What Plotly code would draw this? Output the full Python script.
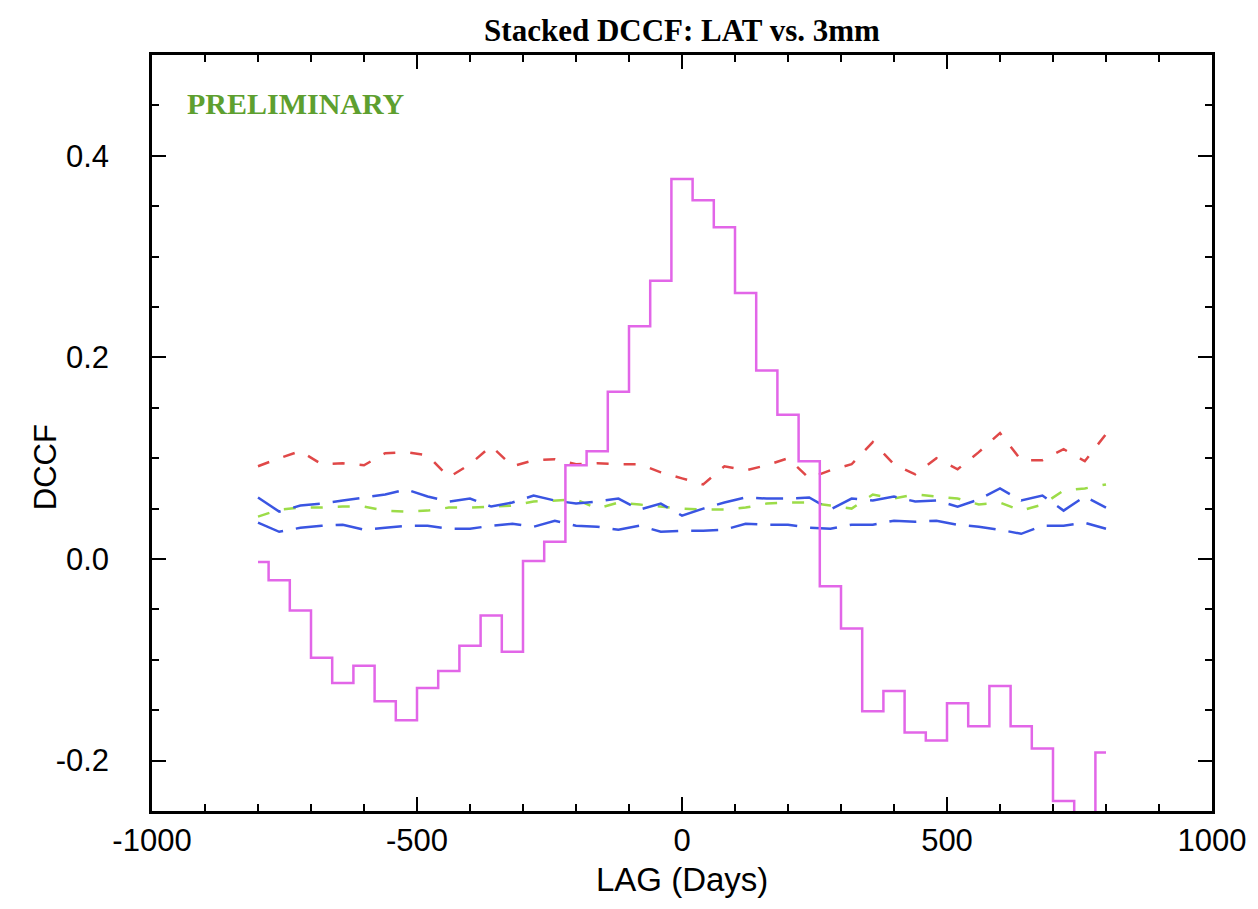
import plotly.graph_objects as go

# ---------------- data ----------------
lags = [-800, -760, -720, -680, -640, -600, -560, -520, -480, -440, -400,
        -360, -320, -280, -240, -200, -160, -120, -80, -40, 0,
        40, 80, 120, 160, 200, 240, 280, 320, 360, 400,
        440, 480, 520, 560, 600, 640, 680, 720, 760, 800]

dccf = [-0.003, -0.021, -0.051, -0.098, -0.123, -0.106, -0.141, -0.160, -0.128, -0.111, -0.086,
        -0.056, -0.092, -0.002, 0.017, 0.093, 0.107, 0.166, 0.231, 0.276, 0.377,
        0.356, 0.329, 0.264, 0.187, 0.143, 0.097, -0.027, -0.069, -0.151, -0.131,
        -0.172, -0.180, -0.143, -0.166, -0.126, -0.166, -0.188, -0.240, -0.280, -0.192]

red_level = [0.092, 0.100, 0.107, 0.094, 0.095, 0.093, 0.105, 0.106, 0.103, 0.081, 0.094,
             0.112, 0.092, 0.098, 0.099, 0.094, 0.095, 0.094, 0.094, 0.086, 0.080,
             0.074, 0.092, 0.088, 0.093, 0.100, 0.080, 0.088, 0.094, 0.116, 0.094,
             0.084, 0.100, 0.089, 0.106, 0.125, 0.098, 0.098, 0.109, 0.097, 0.124]

blue_upper = [0.061, 0.047, 0.053, 0.055, 0.058, 0.061, 0.064, 0.069, 0.062, 0.057, 0.060,
              0.052, 0.056, 0.063, 0.058, 0.055, 0.057, 0.060, 0.049, 0.055, 0.043,
              0.050, 0.056, 0.061, 0.060, 0.060, 0.061, 0.049, 0.060, 0.058, 0.062,
              0.057, 0.058, 0.052, 0.059, 0.070, 0.058, 0.063, 0.048, 0.062, 0.051]

blue_lower = [0.036, 0.027, 0.031, 0.033, 0.034, 0.029, 0.031, 0.033, 0.033, 0.030, 0.030,
              0.033, 0.035, 0.032, 0.038, 0.033, 0.032, 0.029, 0.033, 0.027, 0.028,
              0.028, 0.029, 0.035, 0.034, 0.034, 0.031, 0.030, 0.034, 0.034, 0.038,
              0.037, 0.038, 0.034, 0.032, 0.029, 0.025, 0.033, 0.033, 0.036, 0.030]

green_level = [0.042, 0.049, 0.051, 0.051, 0.052, 0.052, 0.048, 0.047, 0.048, 0.051, 0.051,
               0.052, 0.053, 0.057, 0.058, 0.059, 0.050, 0.056, 0.054, 0.052, 0.050,
               0.049, 0.049, 0.051, 0.055, 0.056, 0.056, 0.053, 0.050, 0.064, 0.060,
               0.064, 0.062, 0.060, 0.054, 0.056, 0.048, 0.054, 0.068, 0.070, 0.074]

x_tickvals = [-1000, -500, 0, 500, 1000]
x_ticktext = ["-1000", "-500", "0", "500", "1000"]
y_tickvals = [-0.2, 0.0, 0.2, 0.4]
y_ticktext = ["-0.2", "0.0", "0.2", "0.4"]

# ---------------- figure ----------------
W, H = 1258, 909
L, R, T, B = 152, 44, 55, 98
pw, ph = W - L - R, H - T - B

fig = go.Figure()

fig.add_trace(go.Scatter(x=lags, y=red_level, mode="lines",
                         line=dict(color="#e04848", width=2.5, dash="12px,15px"),
                         showlegend=False))
fig.add_trace(go.Scatter(x=lags, y=green_level, mode="lines",
                         line=dict(color="#9cdc48", width=2.5, dash="12px,15px"),
                         showlegend=False))
fig.add_trace(go.Scatter(x=lags, y=blue_upper, mode="lines",
                         line=dict(color="#3a55e2", width=2.5, dash="27px,13px"),
                         showlegend=False))
fig.add_trace(go.Scatter(x=lags, y=blue_lower, mode="lines",
                         line=dict(color="#3a55e2", width=2.5, dash="27px,13px"),
                         showlegend=False))
fig.add_trace(go.Scatter(x=lags, y=dccf, mode="lines", line_shape="hvh",
                         line=dict(color="#e266e8", width=2.5),
                         showlegend=False))

axis_font = dict(family="Liberation Sans, Arial, sans-serif", size=31, color="black")

fig.update_xaxes(range=[-1000, 1000], tickmode="array", tickvals=x_tickvals, ticktext=x_ticktext,
                 ticks="inside", ticklen=14, tickwidth=2, tickcolor="black",
                 mirror="allticks", showline=True, linewidth=2.5, linecolor="black",
                 showgrid=False, zeroline=False, tickfont=axis_font,
                 ticklabelstandoff=0,
                 minor=dict(tickmode="linear", tick0=0, dtick=100, ticks="inside",
                            ticklen=7, tickwidth=2, tickcolor="black", showgrid=False))
fig.update_yaxes(range=[-0.25, 0.5], tickmode="array", tickvals=y_tickvals, ticktext=y_ticktext,
                 ticks="inside", ticklen=14, tickwidth=2, tickcolor="black",
                 mirror="allticks", showline=True, linewidth=2.5, linecolor="black",
                 showgrid=False, zeroline=False, tickfont=axis_font,
                 ticklabelstandoff=34,
                 minor=dict(tickmode="linear", tick0=0, dtick=0.05, ticks="inside",
                            ticklen=7, tickwidth=2, tickcolor="black", showgrid=False))

def px_x(p):
    return (p - L) / pw

def px_y(p):
    return (H - B - p) / ph

fig.update_layout(
    width=W, height=H,
    margin=dict(l=L, r=R, t=T, b=B),
    plot_bgcolor="white", paper_bgcolor="white",
    title=dict(text="Stacked DCCF: LAT vs. 3mm", xref="paper", x=0.5, xanchor="center",
               y=1 - 30 / H, yanchor="middle",
               font=dict(family="Liberation Serif, Times New Roman, serif", size=31,
                         color="black", weight="bold")),
    annotations=[
        dict(text="PRELIMINARY", xref="paper", yref="paper", x=px_x(185), y=px_y(103),
             xanchor="left", yanchor="middle", showarrow=False,
             font=dict(family="Liberation Serif, Times New Roman, serif", size=30,
                       color="#5e9f2f", weight="bold")),
        dict(text="LAG (Days)", xref="paper", yref="paper", x=px_x(683), y=px_y(879),
             xanchor="center", yanchor="middle", showarrow=False,
             font=dict(family="Liberation Sans, Arial, sans-serif", size=33, color="black")),
        dict(text="DCCF", xref="paper", yref="paper", x=px_x(45), y=px_y(467),
             xanchor="center", yanchor="middle", textangle=-90, showarrow=False,
             font=dict(family="Liberation Sans, Arial, sans-serif", size=31, color="black")),
    ],
)

fig.write_html("out.html")
